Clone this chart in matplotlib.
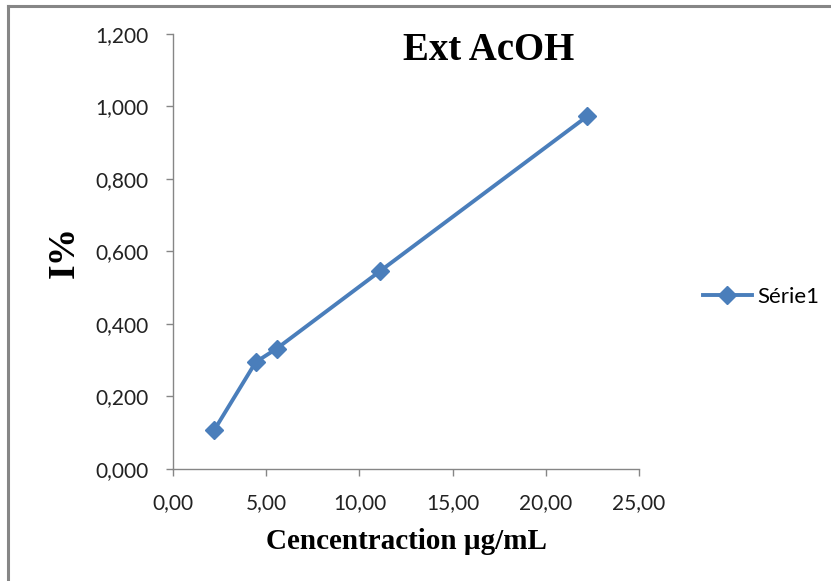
import matplotlib.pyplot as plt
from matplotlib.ticker import FuncFormatter
from matplotlib.lines import Line2D

# data
conc = [2.22, 4.44, 5.56, 11.11, 22.22]
inhib = [0.108, 0.295, 0.332, 0.546, 0.973]
x_ticks = [0, 5, 10, 15, 20, 25]
y_ticks = [0, 0.2, 0.4, 0.6, 0.8, 1.0, 1.2]

blue = '#4A7EBB'
grey = '#868686'

fig = plt.figure(figsize=(8.31, 5.81), dpi=100)
ax = fig.add_axes([0.2082, 0.1928, 0.769 - 0.2082, 0.9415 - 0.1928])

ax.plot(conc, inhib, color=blue, lw=2.8, marker='D', ms=9,
        mfc=blue, mec=blue, label='Série1')

ax.set_xlim(0, 25)
ax.set_ylim(0, 1.2)
ax.set_xticks(x_ticks)
ax.set_yticks(y_ticks)
ax.xaxis.set_major_formatter(FuncFormatter(lambda v, p: f'{v:.2f}'.replace('.', ',')))
ax.yaxis.set_major_formatter(FuncFormatter(lambda v, p: f'{v:,.3f}'.replace('.', ',')))

for s in ['top', 'right']:
    ax.spines[s].set_visible(False)
for s in ['left', 'bottom']:
    ax.spines[s].set_color(grey)
    ax.spines[s].set_linewidth(1)
ax.tick_params(direction='out', length=5, width=1, color=grey,
               labelsize=15, labelcolor='#222222')
ax.tick_params(axis='y', pad=12.5)
ax.tick_params(axis='x', pad=12)
for lab in ax.get_xticklabels() + ax.get_yticklabels():
    lab.set_family('Lato')

ax.set_xlabel('Cencentraction µg/mL', family='Liberation Serif',
              fontweight='bold', fontsize=21, labelpad=11)
ax.set_ylabel('I%', family='Liberation Serif', fontweight='bold',
              fontsize=27, labelpad=10)
ax.text(0.678, 0.963, 'Ext AcOH', transform=ax.transAxes, ha='center', va='center',
        family='Liberation Serif', fontweight='bold', fontsize=28)

ax.legend(loc='center left', bbox_to_anchor=(1.137, 0.395), frameon=False,
          prop={'family': 'Lato', 'size': 16}, handlelength=2.2,
          handletextpad=0.25, borderpad=0, borderaxespad=0)

# outer chart border (only left and top visible)
fig.add_artist(Line2D([8 / 831, 8 / 831], [0, 1 - 6 / 581], color=grey, lw=2.2))
fig.add_artist(Line2D([8 / 831, 1], [1 - 6 / 581, 1 - 6 / 581], color=grey, lw=2.2))

fig.savefig('out.png', dpi=100)
